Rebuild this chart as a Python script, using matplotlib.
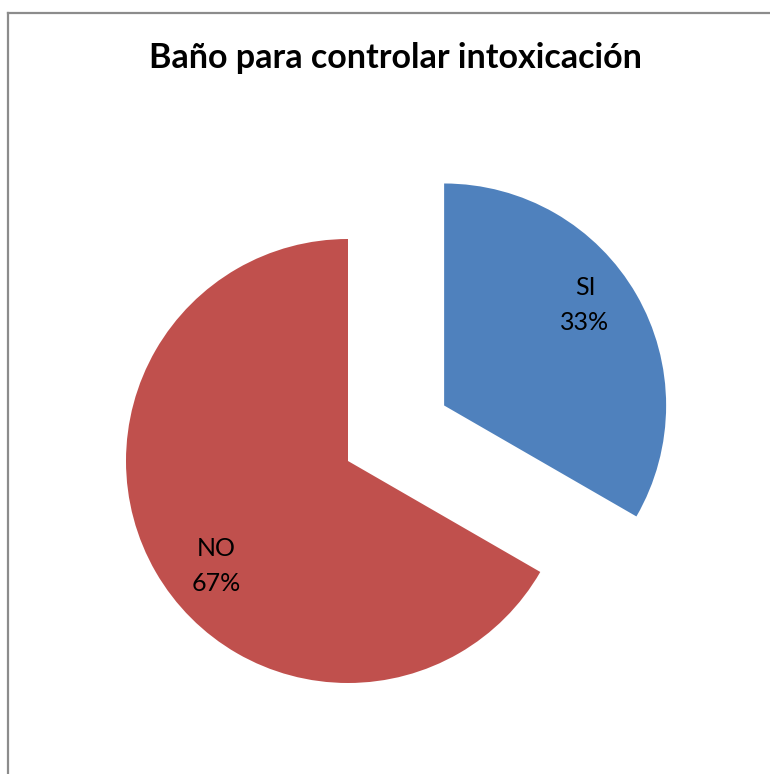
import matplotlib.pyplot as plt
from matplotlib.lines import Line2D

labels = ['SI', 'NO']
values = [33.33, 66.67]
pct_text = ['33%', '67%']
colors = ['#4F81BD', '#C0504D']

W, H = 770, 774
fig = plt.figure(figsize=(W / 100, H / 100), dpi=100)
ax = fig.add_axes([0, 0, 1, 1])
ax.set_xlim(0, W)
ax.set_ylim(0, H)
ax.set_aspect('equal')
ax.axis('off')

# chart frame (left and top edges visible)
fig.add_artist(Line2D([7.5 / W, 7.5 / W], [0, 1 - 13 / H], color='#8c8c8c', lw=1.6))
fig.add_artist(Line2D([7.5 / W, 1], [1 - 13 / H, 1 - 13 / H], color='#8c8c8c', lw=1.6))

radius = 222
center = (348, H - 461)
# explode is in data units here, so scale by radius
wedges, _ = ax.pie(values, colors=colors, startangle=90, counterclock=False,
                   explode=[0.5 * radius, 0], radius=radius, center=center,
                   wedgeprops=dict(linewidth=0))
ax.set_xlim(0, W)
ax.set_ylim(0, H)

label_pos = [(585, H - 305), (216, H - 566)]
for lab, pct, pos in zip(labels, pct_text, label_pos):
    ax.text(pos[0], pos[1], f'{lab}\n{pct}', ha='center', va='center',
            fontsize=18, family='Lato', color='black', linespacing=1.65)

fig.text(395 / W, 1 - 58 / H, 'Baño para controlar intoxicación', ha='center', va='center',
         fontsize=24.5, fontweight='bold', family='Lato')

fig.savefig('out.png', dpi=100)
